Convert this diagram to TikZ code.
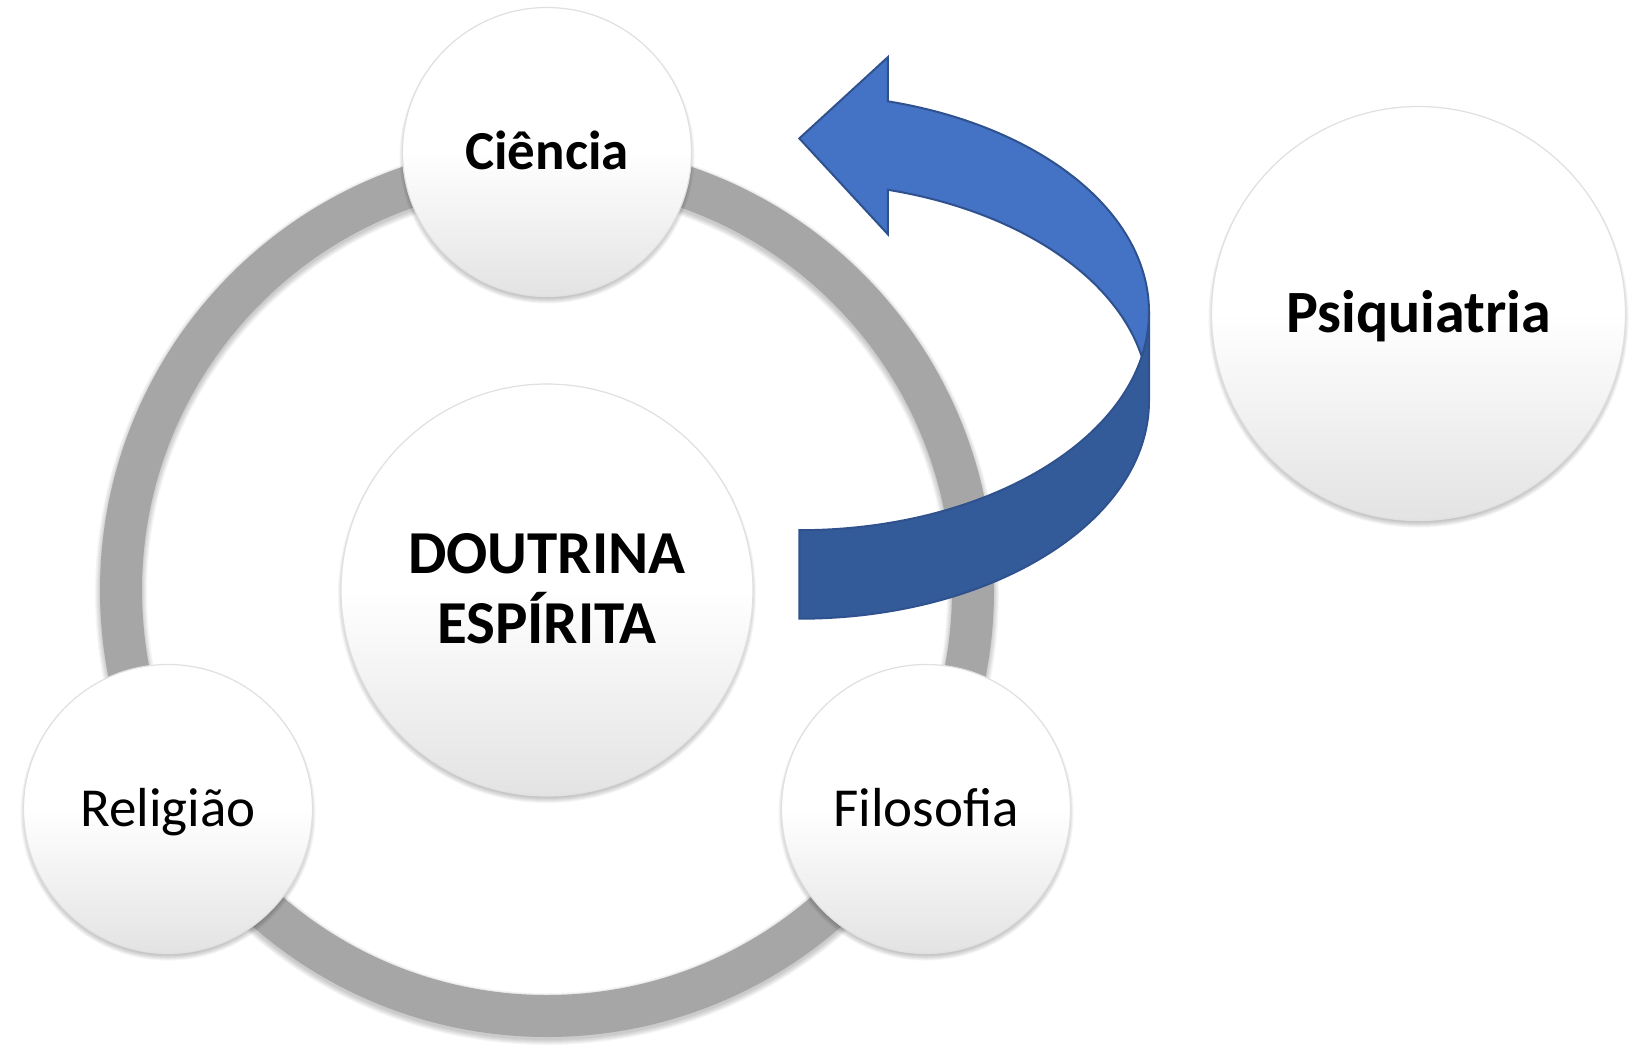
\documentclass[tikz,border=0pt]{standalone}
\usepackage{fontspec}
\setmainfont{Carlito}
\definecolor{ringgray}{RGB}{166,166,166}
\definecolor{arrowlight}{RGB}{68,114,196}
\definecolor{arrowdark}{RGB}{52,91,153}
\definecolor{arrowedge}{RGB}{47,82,143}
\tikzset{
  bubble/.style={circle, inner sep=0pt, draw=black!12, line width=0.6pt,
    top color=white, bottom color=black!11, middle color=white,
    text=black},
  smallbubble/.style={bubble, minimum size=144.5pt, text height=17.7pt, text depth=0pt,
    font=\fontsize{27.5}{33}\selectfont},
  psibubble/.style={bubble, minimum size=207pt, text height=19.3pt, text depth=0pt,
    font=\fontsize{30}{36}\selectfont\bfseries},
  corebubble/.style={bubble, minimum size=206pt, text height=15.6pt, text depth=32.6pt,
    font=\fontsize{30.5}{32.6}\selectfont\bfseries},
  arrowpart/.style={draw=arrowedge, line width=1pt, line join=miter},
  ellarc/.style={x radius=349.7, y radius=218},
}
\newcommand\circshadow[3]{%
  \foreach \k in {1,...,6}{\fill[black,opacity=0.04] (#1,{#2+4}) circle[radius={#3+\k-3}];}}
\begin{document}
\begin{tikzpicture}[x=0.5pt,y=-0.5pt]
\path[use as bounding box, fill=white] (0,0) rectangle (1632,1045);

% ring with soft shadow
\foreach \k in {0,...,5}{\draw[black,opacity=0.035,line width={21pt+\k*1pt}] (547,593) circle[radius=426];}
\draw[ringgray, line width=21pt] (547,590) circle[radius=426];

% circles
\circshadow{547}{152}{144.5}
\node[smallbubble, font=\fontsize{27.5}{33}\selectfont\bfseries] (ciencia) at (547,152) {Ciência};
\circshadow{168}{809}{144.5}
\node[smallbubble] (religiao) at (168,809) {Religião};
\circshadow{926}{809}{144.5}
\node[smallbubble] (filosofia) at (926,809) {Filosofia};
\circshadow{547}{590}{206}
\node[corebubble] (doutrina) at (547,590)
  {\begin{tabular}[t]{@{}c@{}}DOUTRINA\\ESPÍRITA\end{tabular}};
\circshadow{1418.5}{313.5}{207}
\node[psibubble] (psiquiatria) at (1418.5,313.5) {Psiquiatria};

% curved block arrow: back (dark) band
\draw[arrowpart, fill=arrowdark] (799.3,530.2)
  arc[start angle=90, end angle=0, ellarc] -- (1149,400.7)
  arc[start angle=0, end angle=90, ellarc] -- cycle;
% front (light) band with head
\draw[arrowpart, fill=arrowlight] (887.8,101.3)
  arc[start angle=-75.34, end angle=0, ellarc]
  arc[start angle=0, end angle=11.71, ellarc]
  arc[start angle=-11.71, end angle=-75.34, ellarc]
  -- (887.8,234.2) -- (799.3,138.4) -- (887.8,57.2) -- cycle;
\end{tikzpicture}
\end{document}
